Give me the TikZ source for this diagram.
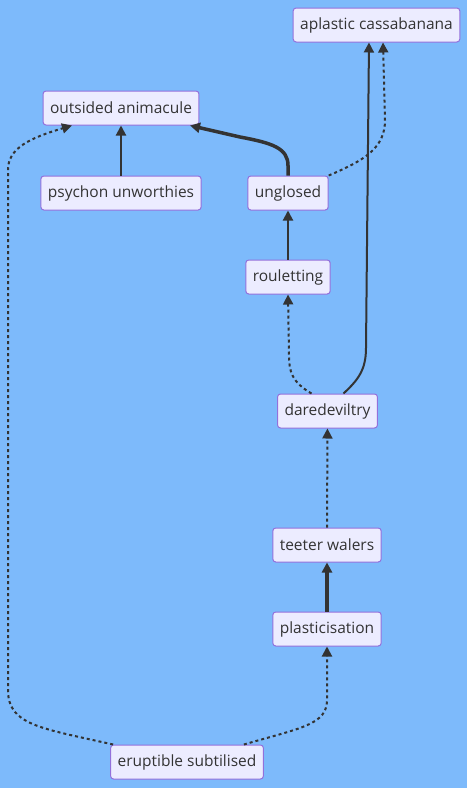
\documentclass[tikz,border=0pt]{standalone}
\usepackage{fontspec}
\setmainfont{Open Sans}
\usetikzlibrary{arrows.meta}
\definecolor{skyBack}{HTML}{7DBAFB}
\definecolor{boxFill}{HTML}{ECECFF}
\definecolor{boxLine}{HTML}{9370DB}
\definecolor{inkGray}{HTML}{333333}
\tikzset{
  box/.style={draw=boxLine, fill=boxFill, rounded corners=3pt, line width=1pt,
    minimum height=34pt, inner xsep=7pt, text=inkGray, font=\fontsize{15.5}{18}\selectfont},
  link/.style={draw=inkGray, line width=2pt, -{Triangle[length=10pt,width=10pt]}},
  boldlink/.style={link, line width=3.5pt},
  dotlink/.style={link, dash pattern=on 3pt off 3pt}
}
\begin{document}
\begin{tikzpicture}[x=1pt,y=-1pt]
 % Background
 \fill[skyBack] (0,0) rectangle (467,788);
 \useasboundingbox (0,0) rectangle (467,788);
 % Nodes
 \node[box] (aplastic) at (376.5,25) {aplastic cassabanana};
 \node[box] (outsided) at (121,108) {outsided animacule};
 \node[box] (psychon) at (121,193) {psychon unworthies};
 \node[box] (unglosed) at (288,193) {unglosed};
 \node[box] (rouletting) at (288,277) {rouletting};
 \node[box] (daredeviltry) at (327.5,411) {daredeviltry};
 \node[box] (teeter) at (327,545) {teeter walers};
 \node[box] (plastic) at (327,629) {plasticisation};
 \node[box] (eruptible) at (187,762) {eruptible subtilised};
 % Links
 \draw[link] (psychon) -- (outsided);
 \draw[boldlink] (unglosed.north) -- ++(0,-10) .. controls (288,148) and (272,143) .. (240,137) -- (190,125.5);
 \draw[dotlink] (unglosed.north east) .. controls (365,160) and (385,148) .. (385,120) -- (383,42.5);
 \draw[link] (rouletting) -- (unglosed);
 \draw[dotlink] (daredeviltry.north) ++(-16,0) .. controls (292,382) and (289,372) .. (289,355) -- (288,294.5);
 \draw[link] (daredeviltry.north) ++(16,0) .. controls (358,380) and (366,370) .. (366,348) -- (369,42.5);
 \draw[dotlink] (teeter) -- (daredeviltry);
 \draw[boldlink] (plastic) -- (teeter);
 \draw[dotlink] (eruptible.north east) ++(-20,0) .. controls (300,728) and (327,725) .. (327,700) -- (plastic.south);
 \draw[dotlink] (eruptible.north west) ++(3,0) .. controls (40,728) and (8,725) .. (8,690) -- (8,170) .. controls (8,148) and (30,138) .. (72,125.5);
\end{tikzpicture}
\end{document}
